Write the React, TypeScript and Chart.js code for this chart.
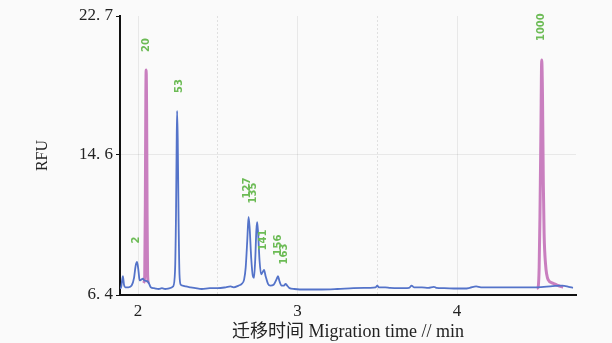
import React, { useEffect, useRef } from "react";
import { Chart, registerables } from "chart.js";

Chart.register(...registerables);

// Sample trace (blue)
const blueTime = [
  1.888, 1.895, 1.905, 1.912, 1.92, 1.94, 1.96, 1.975, 1.985, 1.994, 2.003, 2.01, 2.02, 2.03, 2.04,
  2.06, 2.07, 2.08, 2.1, 2.13, 2.15, 2.17, 2.2, 2.22, 2.232, 2.238, 2.242, 2.245, 2.249, 2.254,
  2.26, 2.268, 2.28, 2.3, 2.33, 2.36, 2.4, 2.45, 2.5, 2.55, 2.58, 2.6, 2.63, 2.65, 2.665, 2.675,
  2.685, 2.693, 2.7, 2.71, 2.72, 2.727, 2.735, 2.742, 2.747, 2.753, 2.762, 2.772, 2.782, 2.79,
  2.8, 2.815, 2.83, 2.85, 2.87, 2.878, 2.887, 2.9, 2.915, 2.925, 2.935, 2.95, 2.98, 3.05, 3.15,
  3.25, 3.35, 3.45, 3.49, 3.5, 3.51, 3.55, 3.58, 3.63, 3.7, 3.715, 3.73, 3.78, 3.82, 3.855, 3.87,
  3.92, 4.0, 4.05, 4.08, 4.12, 4.15, 4.25, 4.35, 4.45, 4.5, 4.6, 4.66, 4.7, 4.727,
];
const blueRFU = [
  6.75, 6.9, 7.5, 7.0, 6.85, 6.85, 6.95, 7.4, 8.1, 8.33, 7.8, 7.25, 7.3, 7.35, 7.25,
  7.2, 7.05, 6.85, 6.8, 6.75, 6.8, 6.75, 6.8, 6.9, 7.8, 11.0, 15.0, 17.15, 15.5, 11.0,
  7.6, 7.0, 6.95, 6.9, 6.85, 6.8, 6.75, 6.8, 6.8, 6.85, 6.9, 6.85, 6.95, 7.05, 7.3, 8.0,
  9.6, 10.96, 10.3, 8.5, 7.5, 7.4, 8.5, 10.2, 10.66, 10.0, 8.4, 7.6, 7.75, 7.86,
  7.5, 7.05, 6.95, 7.0, 7.35, 7.5, 7.2, 6.95, 6.95, 7.05, 6.95, 6.8, 6.75, 6.72, 6.72,
  6.75, 6.8, 6.82, 6.85, 6.95, 6.85, 6.85, 6.82, 6.8, 6.82, 6.95, 6.85, 6.85, 6.82, 6.88, 6.82,
  6.8, 6.78, 6.78, 6.82, 6.9, 6.85, 6.85, 6.85, 6.85, 6.85, 6.92, 6.95, 6.88, 6.82,
];

// Size-standard traces (pink)
const pinkTimeA = [2.035, 2.042, 2.046, 2.049, 2.051, 2.054, 2.057, 2.06, 2.065];
const pinkRFUA = [7.1, 7.5, 12.0, 18.0, 19.54, 17.0, 11.0, 7.6, 7.1];
const pinkTimeB = [4.5, 4.508, 4.515, 4.52, 4.526, 4.531, 4.536, 4.541, 4.546, 4.555, 4.571, 4.6, 4.627, 4.665];
const pinkRFUB = [6.8, 6.85, 8.0, 11.0, 16.0, 20.13, 18.0, 13.0, 10.0, 8.2, 7.3, 7.1, 6.97, 6.85];

// Peak annotations
const peakLabels = ["2", "20", "53", "127", "135", "141", "156", "163", "1000"];
const peakLabelTime = [1.987, 2.05, 2.257, 2.683, 2.721, 2.784, 2.878, 2.915, 4.527];
const peakLabelRFU = [9.61, 21.0, 18.61, 12.65, 12.36, 9.61, 9.32, 8.79, 22.05];

// Axes
const xTicks = [2, 2.5, 3, 3.5, 4];
const yTicks = [6.4, 14.6, 22.7];
const xMin = 1.887;
const xMax = 4.746;
const yMin = 6.4;
const yMax = 22.7;

const toPoints = (t: number[], v: number[]) => t.map((x, i) => ({ x, y: v[i] }));

const peakLabelPlugin = {
  id: "peakLabels",
  afterDatasetsDraw(chart: any) {
    const { ctx, scales } = chart;
    ctx.save();
    ctx.fillStyle = "#6cbb55";
    ctx.font = 'bold 10px "DejaVu Sans"';
    ctx.textAlign = "center";
    ctx.textBaseline = "middle";
    peakLabels.forEach((lab, i) => {
      const px = scales.x.getPixelForValue(peakLabelTime[i]);
      const py = scales.y.getPixelForValue(peakLabelRFU[i]);
      ctx.save();
      ctx.translate(px, py);
      ctx.rotate(-Math.PI / 2);
      ctx.fillText(lab, 0, 0);
      ctx.restore();
    });
    ctx.restore();
  },
};

const bgPlugin = {
  id: "bg",
  beforeDraw(chart: any) {
    const { ctx, width, height } = chart;
    ctx.save();
    ctx.fillStyle = "#fafafa";
    ctx.fillRect(0, 0, width, height);
    ctx.restore();
  },
};

export default function App() {
  const ref = useRef<HTMLCanvasElement>(null);
  useEffect(() => {
    if (!ref.current) return;
    const pink = "#c97fbf";
    const chart = new Chart(ref.current, {
      type: "line",
      data: {
        datasets: [
          {
            data: toPoints(blueTime, blueRFU),
            borderColor: "#5473c9",
            borderWidth: 1.8,
            pointRadius: 0,
            cubicInterpolationMode: "monotone",
            fill: false,
          },
          {
            data: toPoints(pinkTimeA, pinkRFUA),
            borderColor: pink,
            borderWidth: 3,
            pointRadius: 0,
            cubicInterpolationMode: "monotone",
            fill: false,
          },
          {
            data: toPoints(pinkTimeB, pinkRFUB),
            borderColor: pink,
            borderWidth: 3,
            pointRadius: 0,
            cubicInterpolationMode: "monotone",
            fill: false,
          },
        ],
      },
      options: {
        responsive: false,
        animation: false,
        events: [],
        layout: { padding: { left: 0, right: 36, top: 16, bottom: 0 } },
        plugins: { legend: { display: false }, tooltip: { enabled: false } },
        scales: {
          x: {
            type: "linear",
            min: xMin,
            max: xMax,
            afterBuildTicks: (s: any) => {
              s.ticks = xTicks.map((v) => ({ value: v }));
            },
            afterFit: (s: any) => {
              s.height = 48;
            },
            ticks: {
              autoSkip: false,
              maxRotation: 0,
              padding: 6,
              color: "#222",
              font: { family: '"Liberation Serif", serif', size: 17 },
              callback: (v: any) => (Number(v) % 1 === 0 ? String(v) : ""),
            },
            grid: {
              drawTicks: false,
              color: (c: any) =>
                c.tick && c.tick.value % 1 !== 0 ? "rgba(0,0,0,0.10)" : "rgba(0,0,0,0.07)",
              lineWidth: 1,
            },
            border: {
              display: true,
              color: "#111",
              width: 2,
              dash: (c: any) => (c.tick && c.tick.value % 1 !== 0 ? [2, 2] : []),
            },
            title: {
              display: true,
              text: "迁移时间 Migration time // min",
              color: "#222",
              font: { family: '"Liberation Serif", "Noto Sans CJK SC", serif', size: 18 },
              padding: { top: 0, bottom: 0 },
            },
          },
          y: {
            type: "linear",
            min: yMin,
            max: yMax,
            afterBuildTicks: (s: any) => {
              s.ticks = yTicks.map((v) => ({ value: v }));
            },
            afterFit: (s: any) => {
              s.width = 120;
            },
            ticks: {
              padding: 3,
              color: "#222",
              font: { family: '"Liberation Serif", serif', size: 17 },
              callback: (v: any) => Number(v).toFixed(1).replace(".", ". "),
            },
            grid: {
              drawTicks: true,
              tickLength: 4,
              tickColor: "#111",
              color: (c: any) =>
                c.tick && Math.abs(c.tick.value - 14.6) < 0.01 ? "rgba(0,0,0,0.07)" : "rgba(0,0,0,0)",
            },
            border: { display: true, color: "#111", width: 2 },
            title: {
              display: true,
              text: "RFU",
              color: "#222",
              font: { family: '"Liberation Serif", serif', size: 16 },
              padding: { top: 33, bottom: 0 },
            },
          },
        },
      },
      plugins: [bgPlugin, peakLabelPlugin],
    } as any);
    return () => chart.destroy();
  }, []);
  return (
    <div style={{ position: "fixed", left: 0, top: 0, width: 612, height: 343 }}>
      <canvas ref={ref} width={612} height={343} style={{ width: 612, height: 343 }} />
    </div>
  );
}
